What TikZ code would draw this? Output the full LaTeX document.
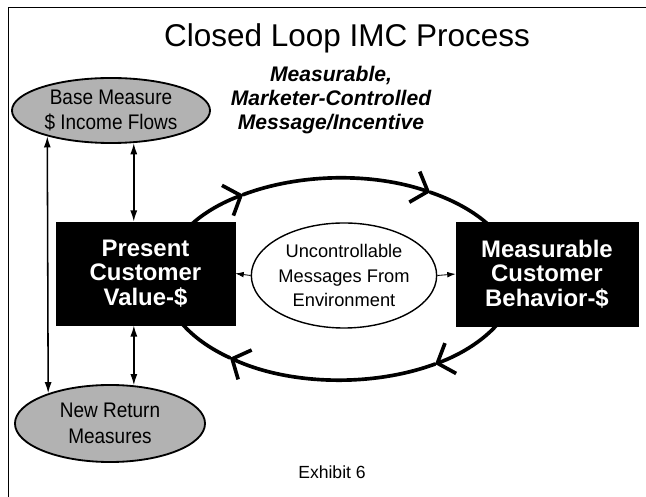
\documentclass[tikz,border=0pt]{standalone}
\usepackage{fontspec}
\setmainfont{Liberation Sans}
\newfontfamily\narrowsans[FakeStretch=0.9]{Liberation Sans}
\usetikzlibrary{positioning,shapes,arrows.meta,calc}

\tikzset{
  custbox/.style={draw=black, fill=black, text=white, align=center, inner sep=0pt,
    font=\bfseries\fontsize{17}{17.5}\selectfont},
  measell/.style={ellipse, draw=black, line width=1.3pt, fill=black!30, align=center,
    inner sep=0pt, font=\narrowsans\fontsize{15}{18}\selectfont},
  envell/.style={ellipse, draw=black, line width=1pt, fill=white, align=center,
    inner sep=0pt, font=\fontsize{13}{17.4}\selectfont},
  vlink/.style={line width=1.1pt, {Latex[length=8pt,width=5pt]}-{Latex[length=8pt,width=5pt]}},
  hlink/.style={line width=0.6pt, -{Latex[length=6pt,width=4pt]}},
  loopline/.style={line width=2.6pt, line cap=round},
  barb/.style={-{Straight Barb[length=10pt,width=23pt]}}
}

\begin{document}
\begin{tikzpicture}[x=0.025cm, y=0.025cm]
  \useasboundingbox (0,0) rectangle (646,-497);
  % frame
  \draw[line width=0.6pt] (8,-497) -- (8,-7) -- (646,-7);
  % closed loop, clockwise, drawn first so the boxes hide its ends
  \coordinate (loopc) at (340,-279);
  \foreach \a/\b in {180/123.4, 123.4/59.2, 59.2/-57.3, -57.3/-128.7} {
    \draw[loopline,barb] (loopc) ++(\a:4.4cm and 2.525cm)
      arc[start angle=\a, end angle=\b, x radius=4.4cm, y radius=2.525cm];
  }
  \draw[loopline] (loopc) ++(-128.7:4.4cm and 2.525cm)
    arc[start angle=-128.7, end angle=-180, x radius=4.4cm, y radius=2.525cm];

  \node (title) at (347,-38) {\fontsize{22.4}{26}\selectfont Closed Loop IMC Process};
  \node[align=center, font=\bfseries\itshape\fontsize{15}{17.2}\selectfont] (msg) at (331,-100)
    {Measurable,\\Marketer-Controlled\\Message/Incentive};

  \node[measell, minimum width=4.95cm, minimum height=1.625cm] (base) at (111,-110.5)
    {Base Measure\\\$ Income Flows};
  \node[measell, minimum width=4.75cm, minimum height=1.925cm] (newret) at (110,-423.5)
    {New Return\\Measures};

  \node[custbox, minimum width=4.475cm, minimum height=2.575cm] (present) at (145.5,-273.5)
    {Present\\Customer\\Value-\$};
  \node[custbox, minimum width=4.55cm, minimum height=2.6cm] (behav) at (547,-274)
    {Measurable\\Customer\\Behavior-\$};
  \node[envell, minimum width=4.2cm, minimum height=2.625cm] (env) at (344,-275.5)
    {Uncontrollable\\Messages From\\Environment};

  \node (exh) at (332,-472) {\fontsize{12.5}{14}\selectfont Exhibit 6};

  % links
  \draw[vlink] (base.202) -- (newret.154);
  \draw[vlink] (base.-55) -- (base.-55 |- present.north);
  \draw[vlink] (present.south -| newret.58) -- (newret.58);
  \draw[hlink] (env.west) -- (present.east);
  \draw[hlink] (env.east) -- (behav.west);
\end{tikzpicture}
\end{document}
